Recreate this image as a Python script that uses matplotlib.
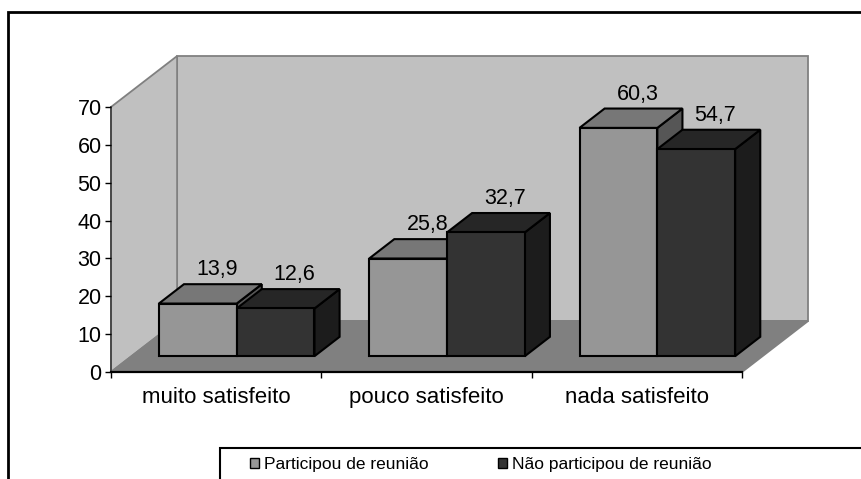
import matplotlib
matplotlib.use("Agg")
import matplotlib.pyplot as plt
from matplotlib import font_manager
from matplotlib.patches import Polygon, Rectangle, Patch

plt.rcParams["font.family"] = ["Liberation Sans", "DejaVu Sans"]

categories = ["muito satisfeito", "pouco satisfeito", "nada satisfeito"]
series_names = ["Participou de reunião", "Não participou de reunião"]
participou = [13.9, 25.8, 60.3]
nao_participou = [12.6, 32.7, 54.7]
y_ticks = [0, 10, 20, 30, 40, 50, 60, 70]

# (front, top, side) shades per series
shades = [("#969696", "#777777", "#565656"),
          ("#333333", "#262626", "#1c1c1c")]

W, H = 861, 479
fig = plt.figure(figsize=(W / 100, H / 100), dpi=100)
# axes = front plane of the 3d box
ax = fig.add_axes([111 / W, 107 / H, 631 / W, 265 / H])
ax.set_xlim(-0.5, 2.5)
ax.set_ylim(0, 70)
ax.patch.set_visible(False)

# depth offset of the box (full depth), in data units
DX = 66 / 210
DY = 51 / (265 / 70)
F0, F1 = 0.31, 0.69   # bar front/back depth fraction
BW = 0.37             # bar width in category units


def P(x, y, f):
    return (x + f * DX, y + f * DY)


def poly(pts, fc, ec, lw, z):
    ax.add_patch(Polygon(pts, closed=True, fc=fc, ec=ec, lw=lw, zorder=z,
                         clip_on=False, joinstyle="miter"))


x0, x1 = -0.5, 2.5
ymax = y_ticks[-1]
wall_ec = "#808080"
# back wall, side wall, floor
poly([P(x0, 0, 1), P(x1, 0, 1), P(x1, ymax, 1), P(x0, ymax, 1)], "#c0c0c0", wall_ec, 1.3, 0.1)
poly([P(x0, 0, 0), P(x0, 0, 1), P(x0, ymax, 1), P(x0, ymax, 0)], "#c0c0c0", wall_ec, 1.3, 0.2)
poly([P(x0, 0, 0), P(x1, 0, 0), P(x1, 0, 1), P(x0, 0, 1)], "#808080", wall_ec, 1.3, 0.3)

z = 2
for i in range(len(categories)):
    for s, vals in enumerate([participou, nao_participou]):
        v = vals[i]
        a = i - BW + s * BW
        b = a + BW
        front, top, side = shades[s]
        poly([P(b, 0, F0), P(b, 0, F1), P(b, v, F1), P(b, v, F0)], side, "black", 1.5, z)
        poly([P(a, v, F0), P(b, v, F0), P(b, v, F1), P(a, v, F1)], top, "black", 1.5, z + 0.1)
        poly([P(a, 0, F0), P(b, 0, F0), P(b, v, F0), P(a, v, F0)], front, "black", 1.5, z + 0.2)
        lx, ly = P((a + b) / 2, v, 0.6)
        ax.text(lx, ly + 5.0, f"{v:.1f}".replace(".", ","), ha="center", va="center",
                fontsize=15.5, zorder=10)
        z += 1

for side in ["top", "right"]:
    ax.spines[side].set_visible(False)
ax.spines["left"].set_color("#444444")
ax.spines["left"].set_linewidth(1.3)
ax.spines["bottom"].set_linewidth(1.6)
ax.spines["left"].set_zorder(0.5)
ax.spines["bottom"].set_zorder(0.5)
ax.set_yticks(y_ticks)
ax.set_yticklabels([str(t) for t in y_ticks])
ax.tick_params(axis="y", direction="out", length=4.3, width=1, pad=2.5, labelsize=15.5)
ax.set_xticks([-0.5, 0.5, 1.5, 2.5])
ax.set_xticklabels([])
ax.tick_params(axis="x", which="major", direction="out", length=4, width=1)
ax.set_xticks(range(len(categories)), minor=True)
ax.set_xticklabels(categories, minor=True)
ax.tick_params(axis="x", which="minor", length=0, pad=11, labelsize=16)

# outer chart frame and legend box (both run past the picture edge)
fig.add_artist(Rectangle((8 / W, -0.1), 1.2, 1.1 - 11.5 / H, transform=fig.transFigure,
                         fill=False, ec="black", lw=2))
fig.add_artist(Rectangle((220 / W, -0.1), 1.0, 0.1 + 1 - 448 / H, transform=fig.transFigure,
                         fill=False, ec="black", lw=1.5))

# legend text in the reference is narrow and tall
names = {f.name for f in font_manager.fontManager.ttflist}
if "Liberation Sans Narrow" in names:
    leg_font = font_manager.FontProperties(family="Liberation Sans Narrow", size=14.5)
    colsp = 4.3 * 12 / 14.5
else:
    leg_font = font_manager.FontProperties(family="Liberation Sans", size=12.5)
    colsp = 4.0
handles = [Patch(fc=shades[0][0], ec="black", lw=1),
           Patch(fc=shades[1][0], ec="black", lw=1)]
fig.legend(handles, series_names, loc="center left", bbox_to_anchor=(250 / W, 1 - 465 / H),
           ncol=2, frameon=False, prop=leg_font, borderpad=0, borderaxespad=0,
           handlelength=0.55 * 12 / leg_font.get_size(), handleheight=0.55 * 12 / leg_font.get_size(),
           handletextpad=0.3 * 12 / leg_font.get_size(), columnspacing=colsp)

fig.savefig("out.png", dpi=100)
